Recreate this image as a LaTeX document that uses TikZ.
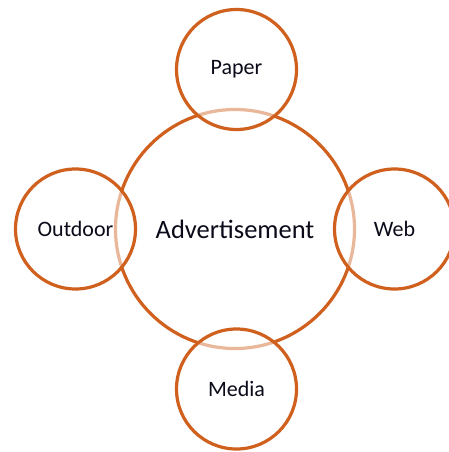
\documentclass[tikz,border=0pt]{standalone}
\usepackage{fontspec}
\setmainfont{Carlito}
\definecolor{ring}{RGB}{208,96,30}
\definecolor{txt}{RGB}{10,10,25}
\begin{document}
\begin{tikzpicture}[x=1pt,y=-1pt,
  bigc/.style={circle,draw=ring,line width=3.2pt,minimum size=239pt,inner sep=0pt,text=txt,font=\fontsize{26.5}{26.5}\selectfont},
  smallc/.style={circle,draw=ring,line width=3.2pt,fill=white,fill opacity=0.55,text opacity=1,minimum size=120pt,inner sep=0pt,text=txt,font=\fontsize{22}{22}\selectfont}]
\useasboundingbox (0,0) rectangle (449,452);
\fill[white] (0,0) rectangle (449,452);
\node[bigc] (ad) at (235,229) {Advertisement};
\node[smallc] (paper) at (236.5,69.5) {Paper};
\node[smallc] (outdoor) at (75.5,229) {Outdoor};
\node[smallc] (web) at (394.5,229) {Web};
\node[smallc] (media) at (236.5,389) {Media};
\end{tikzpicture}
\end{document}
